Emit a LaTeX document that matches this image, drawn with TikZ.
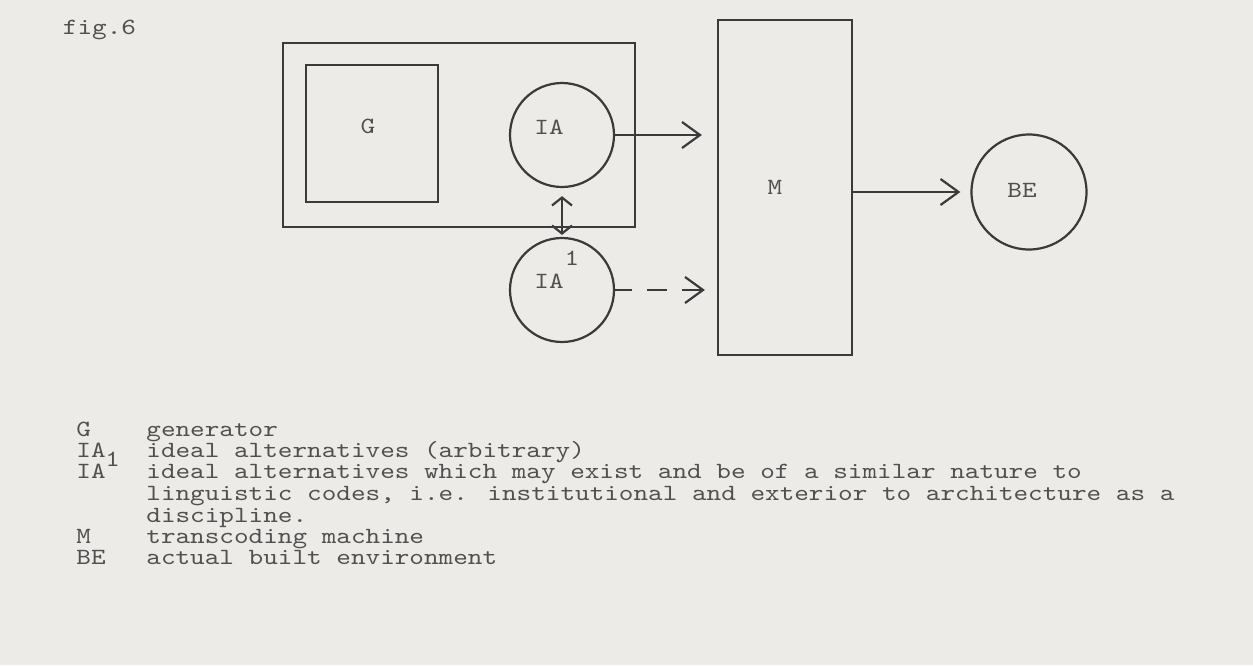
\documentclass[tikz,border=0pt]{standalone}
\usepackage{fontspec}
\newfontfamily\typefont{lmmono10-regular.otf}[FakeStretch=1.2]
\usetikzlibrary{positioning,arrows.meta}
\definecolor{paper}{RGB}{237,235,231}
\definecolor{ink}{RGB}{58,58,58}
\definecolor{typeink}{RGB}{80,80,80}
\newcommand\typed{\typefont\fontsize{11.6}{10.7}\selectfont}

\begin{document}
\begin{tikzpicture}[
x=0.5pt, y=-0.5pt,
every node/.style={font=\typed, text=typeink, inner sep=0pt},
box/.style={draw=ink, line width=1.1pt},
ring/.style={draw=ink, line width=1.1pt, circle},
link/.style={draw=ink, line width=1.1pt},
>={Straight Barb[length=9pt,width=13pt]}
]
\fill[paper] (0,0) rectangle (1253,665);
\useasboundingbox (0,0) rectangle (1253,665);

\node (fig) at (99.5,30) {fig.6};

% generator and its frame
\node[box, minimum width=176pt, minimum height=92pt] (frame) at (459,135) {};
\node[box, minimum width=66pt, minimum height=68.5pt] (gen) at (372,133.5) {};
\node (glabel) at (368,126) {G};

% ideal alternatives
\node[ring, minimum size=52pt] (ia) at (562,135) {};
\node (ialabel) at (549,127) {IA};
\node[ring, minimum size=52pt] (iaone) at (562,290) {};
\node (iaonelabel) at (549,281) {IA};
\node (iaonesup) at (572,258) {1};

% transcoding machine and built environment
\node[box, minimum width=67pt, minimum height=167.5pt] (mach) at (785,187.5) {};
\node (mlabel) at (775,187) {M};
\node[ring, minimum size=57.5pt] (be) at (1029,192) {};
\node (belabel) at (1022,190) {BE};

\draw[link,->,shorten >=7.5pt] (ia.east) -- (ia.east -| mach.west);
\draw[link,{Straight Barb[length=4pt,width=10pt]}-{Straight Barb[length=4pt,width=10pt]},
  shorten <=4pt, shorten >=1pt] (ia.south) -- (iaone.north);
\draw[link,->,shorten >=6pt,dash pattern=on 8.5pt off 7.5pt on 10pt off 7.5pt on 20pt]
  (iaone.east) -- (iaone.east -| mach.west);
\draw[link,->,shorten >=5pt] (mach.east |- be.west) -- (be.west);

% legend
\node[anchor=base west] (kg) at (76,436) {G};
\node[anchor=base west] (kia) at (76,457) {IA};
\node[anchor=base west] (kiaone) at (76,478) {IA};
\node[anchor=base west] (kone) at (105,466) {1};
\node[anchor=base west] (km) at (76,543) {M};
\node[anchor=base west] (kbe) at (76,564) {BE};

\node[anchor=base west] (dg) at (146,436) {generator};
\node[anchor=base west] (dia) at (146,457) {ideal alternatives (arbitrary)};
\node[anchor=base west] (diaone) at (146,478) {ideal alternatives which may exist and be of a similar nature to};
\node[anchor=base west] (dling) at (146,500) {linguistic codes, i.e. institutional and exterior to architecture as a};
\node[anchor=base west] (ddisc) at (146,522) {discipline.};
\node[anchor=base west] (dm) at (146,543) {transcoding machine};
\node[anchor=base west] (dbe) at (146,564) {actual built environment};
\end{tikzpicture}
\end{document}
